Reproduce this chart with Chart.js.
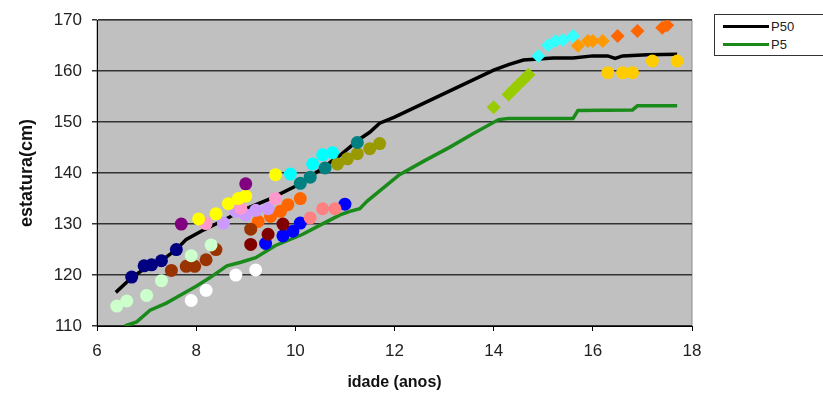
<!DOCTYPE html>
<html lang="pt">
<head>
  <meta charset="UTF-8">
  <title>estatura x idade</title>
  <script src="https://cdn.jsdelivr.net/npm/chart.js"></script>
  <style>
    * { box-sizing: border-box; margin: 0; padding: 0; }
    body { background: #fff; width: 823px; height: 398px; overflow: hidden; font-family: Arial, "Liberation Sans", sans-serif; }
    .wrap { position: relative; width: 823px; height: 398px; }
    /* legenda */
    #legend {
      position: absolute; left: 714px; top: 14px; width: 120px; height: 42px;
      border: 1px solid #333; background: #fff; font-size: 13px; color: #222;
    }
    #legend .row { position: absolute; left: 8px; height: 16px; display: flex; align-items: center; }
    #legend .line { width: 46px; height: 3px; margin-right: 2px; }
  </style>
</head>
<body>
  <div class="wrap">
    <canvas id="chart" width="823" height="398"></canvas>
    <div id="legend">
      <div class="row" style="top:3px"><span class="line" style="background:#000"></span>P50</div>
      <div class="row" style="top:21px"><span class="line" style="background:#1a8a1a"></span>P5</div>
    </div>
  </div>

  <script>
    // curvas de referência
    const p50Age    = [6.38, 6.7, 7.0, 7.3, 7.6, 7.8, 8.1, 8.5, 9.0, 9.5, 10.0, 10.45, 10.9, 11.3, 11.5, 11.7, 12.0, 12.5, 13.0, 13.5, 14.0, 14.3, 14.6, 15.2, 15.6, 16.0, 16.3, 16.45, 16.6, 17.1, 17.7];
    const p50Height = [116.6, 119.5, 121.5, 122.8, 125, 127, 128.6, 130.5, 133, 135, 137.4, 140.3, 143.5, 146.7, 148, 149.8, 151, 153.3, 155.6, 157.9, 160.2, 161.3, 162.2, 162.6, 162.6, 163, 163, 162.5, 163, 163.2, 163.3];
    const p5Age     = [6.56, 6.8, 7.07, 7.4, 7.67, 8.0, 8.28, 8.62, 8.9, 9.2, 9.6, 10.15, 10.5, 10.9, 11.1, 11.3, 11.45, 11.8, 12.1, 12.6, 13.1, 13.6, 14.1, 14.3, 15.6, 15.7, 16.8, 16.9, 17.7];
    const p5Height  = [110, 110.8, 113.1, 114.5, 116, 117.8, 119.5, 121.8, 122.5, 123.4, 125.8, 128, 129.8, 131.8, 132.5, 133, 134.5, 137.3, 139.7, 142.4, 145, 147.8, 150.5, 150.7, 150.7, 152.3, 152.4, 153.2, 153.2];

    // medições individuais (idade, estatura)
    const navyAge = [6.7, 6.95, 7.1, 7.3, 7.6],            navyHeight = [119.6, 121.8, 122, 122.8, 125];
    const mintAge = [6.4, 6.6, 7.0, 7.3, 7.9, 8.3],        mintHeight = [113.9, 114.9, 116, 118.9, 123.8, 125.9];
    const brownAge = [7.5, 7.8, 7.97, 8.2, 8.4, 9.1],      brownHeight = [120.9, 121.7, 121.7, 123, 125, 129];
    const maroonAge = [9.1, 9.45, 9.75],                   maroonHeight = [126, 128, 130];
    const purpleAge = [7.7, 9.0],                          purpleHeight = [130, 137.9];
    const yellowAge = [8.05, 8.4, 8.65, 8.85, 9.0, 9.6],   yellowHeight = [131, 132, 134, 135, 135.5, 139.7];
    const pinkAge = [8.2, 8.9, 9.6],                       pinkHeight = [130.1, 133.1, 135];
    const lavenderAge = [8.55, 8.8, 9.0, 9.2, 9.45],       lavenderHeight = [130.2, 132.5, 131.8, 132.7, 133];
    const orangeAge = [9.25, 9.5, 9.7, 9.85, 10.1],        orangeHeight = [130.5, 131.5, 132.5, 133.8, 135];
    const salmonAge = [10.3, 10.55, 10.8],                 salmonHeight = [131.2, 133, 133];
    const blueAge = [9.4, 9.75, 9.95, 10.1, 11.0],         blueHeight = [126.2, 127.7, 128.6, 130.2, 133.9];
    const whiteAge = [7.9, 8.2, 8.8, 9.2],                 whiteHeight = [115, 117, 120, 121];
    const cyanAge = [9.9, 10.35, 10.55, 10.75],            cyanHeight = [139.8, 141.8, 143.6, 144];
    const tealAge = [10.1, 10.3, 10.6, 11.25],             tealHeight = [138, 139.2, 141, 146];
    const oliveAge = [10.85, 11.05, 11.25, 11.5, 11.7],    oliveHeight = [141.8, 142.8, 143.8, 144.8, 145.8];
    const limeAge = [14.0, 14.3, 14.4, 14.5, 14.6, 14.7],  limeHeight = [152.9, 155.4, 156.4, 157.4, 158.3, 159.3];
    const aquaAge = [14.9, 15.1, 15.25, 15.4, 15.6],       aquaHeight = [163, 165.1, 165.9, 166.1, 166.9];
    const amberAge = [15.7, 15.9, 16.0, 16.2],             amberHeight = [165, 165.9, 165.9, 165.9];
    const tangerineAge = [16.5, 16.9, 17.4, 17.5],         tangerineHeight = [166.9, 167.9, 168.5, 169];
    const goldAge = [16.3, 16.6, 16.8, 17.2, 17.7],        goldHeight = [159.7, 159.7, 159.7, 162, 162];

    const xTicks = [6, 8, 10, 12, 14, 16, 18];
    const yTicks = [110, 120, 130, 140, 150, 160, 170];

    const toXY = (ages, heights) => ages.map((a, i) => ({ x: a, y: heights[i] }));

    // cor e forma de cada grupo
    const groups = [
      [navyAge, navyHeight, '#000080', 'circle'],
      [mintAge, mintHeight, '#ccffcc', 'circle'],
      [brownAge, brownHeight, '#993300', 'circle'],
      [maroonAge, maroonHeight, '#800000', 'circle'],
      [purpleAge, purpleHeight, '#800080', 'circle'],
      [yellowAge, yellowHeight, '#ffff00', 'circle'],
      [pinkAge, pinkHeight, '#ff99cc', 'circle'],
      [lavenderAge, lavenderHeight, '#cc99ff', 'circle'],
      [orangeAge, orangeHeight, '#ff6600', 'circle'],
      [salmonAge, salmonHeight, '#ff8080', 'circle'],
      [blueAge, blueHeight, '#0000ff', 'circle'],
      [whiteAge, whiteHeight, '#ffffff', 'circle'],
      [cyanAge, cyanHeight, '#00ffff', 'circle'],
      [tealAge, tealHeight, '#008080', 'circle'],
      [oliveAge, oliveHeight, '#999900', 'circle'],
      [limeAge, limeHeight, '#99cc00', 'rectRot'],
      [aquaAge, aquaHeight, '#33ffff', 'rectRot'],
      [amberAge, amberHeight, '#ff9900', 'rectRot'],
      [tangerineAge, tangerineHeight, '#ff6600', 'rectRot'],
      [goldAge, goldHeight, '#ffcc00', 'circle']
    ];

    const datasets = [
      { label: 'P50', data: toXY(p50Age, p50Height), showLine: true, borderColor: '#000', borderWidth: 3.5, pointRadius: 0, order: 10 },
      { label: 'P5', data: toXY(p5Age, p5Height), showLine: true, borderColor: '#1a8a1a', borderWidth: 3.5, pointRadius: 0, order: 10 }
    ];
    groups.forEach(([ages, heights, color, shape]) => {
      datasets.push({
        data: toXY(ages, heights),
        showLine: false,
        backgroundColor: color,
        borderColor: color,
        borderWidth: 0,
        pointStyle: shape,
        pointRadius: shape === 'circle' ? 6.5 : 7,
        order: 1
      });
    });

    // fundo cinza da área do gráfico
    const plotBg = {
      id: 'plotBg',
      beforeDraw(chart) {
        const { ctx, chartArea: a } = chart;
        ctx.save();
        ctx.fillStyle = '#c0c0c0';
        ctx.fillRect(a.left, a.top, a.right - a.left, a.bottom - a.top);
        ctx.strokeStyle = '#8c8c8c';
        ctx.lineWidth = 1;
        ctx.strokeRect(a.left, a.top, a.right - a.left, a.bottom - a.top);
        ctx.restore();
      }
    };

    const tickFont = { family: 'Arial, "Liberation Sans"', size: 17 };
    const titleFont = { family: 'Arial, "Liberation Sans"', size: 16, weight: 'bold' };

    new Chart(document.getElementById('chart'), {
      type: 'scatter',
      data: { datasets },
      plugins: [plotBg],
      options: {
        responsive: false,
        animation: false,
        layout: { padding: { top: 17, right: 131, left: 12, bottom: 2 } },
        plugins: { legend: { display: false }, tooltip: { enabled: false } },
        scales: {
          x: {
            type: 'linear', min: 6, max: 18,
            afterBuildTicks: s => { s.ticks = xTicks.map(v => ({ value: v })); },
            afterFit: s => { s.height = 70; },
            ticks: { font: tickFont, color: '#222', padding: 10 },
            grid: { drawOnChartArea: false, drawTicks: true, tickLength: 5, color: '#000' },
            border: { color: '#000', width: 1 },
            title: { display: true, text: 'idade (anos)', font: titleFont, color: '#111', padding: { top: 4 } }
          },
          y: {
            type: 'linear', min: 110, max: 170,
            afterBuildTicks: s => { s.ticks = yTicks.map(v => ({ value: v })); },
            afterFit: s => { s.width = 85; },
            ticks: { font: tickFont, color: '#222', padding: 10 },
            grid: { color: '#333', lineWidth: 1.5, tickLength: 5 },
            border: { color: '#000', width: 1 },
            title: { display: true, text: 'estatura(cm)', font: { ...titleFont, size: 18 }, color: '#111', padding: { bottom: 0 } }
          }
        }
      }
    });
  </script>
</body>
</html>
